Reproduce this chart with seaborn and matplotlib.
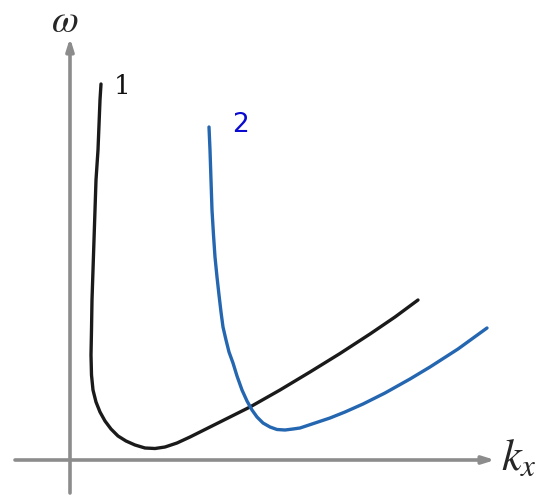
import matplotlib
matplotlib.use('Agg')
import matplotlib.pyplot as plt
import seaborn as sns

sns.set_style('white')
plt.rcParams['mathtext.fontset'] = 'stix'

# curve 1 (black), axis origin at the crossing
c1_x = [0.31, 0.30, 0.29, 0.28, 0.26, 0.25, 0.24, 0.23, 0.22, 0.215, 0.21, 0.215,
        0.23, 0.26, 0.30, 0.35, 0.41, 0.48, 0.56, 0.65, 0.75, 0.85, 0.95, 1.07,
        1.20, 1.40, 1.60, 1.80, 2.10, 2.40, 2.70, 3.00, 3.25, 3.48]
c1_y = [3.76, 3.60, 3.35, 3.10, 2.80, 2.50, 2.20, 1.90, 1.60, 1.30, 1.05, 0.85,
        0.70, 0.58, 0.48, 0.39, 0.31, 0.24, 0.19, 0.15, 0.12, 0.115, 0.13, 0.17,
        0.23, 0.33, 0.43, 0.53, 0.70, 0.88, 1.065, 1.26, 1.43, 1.60]

# curve 2 (blue)
c2_x = [1.39, 1.40, 1.41, 1.42, 1.435, 1.45, 1.47, 1.49, 1.51, 1.53, 1.56, 1.59,
        1.63, 1.67, 1.72, 1.77, 1.82, 1.87, 1.93, 2.00, 2.07, 2.15, 2.23, 2.30,
        2.45, 2.60, 2.75, 2.93, 3.15, 3.40, 3.60, 3.88, 4.17]
c2_y = [3.33, 3.10, 2.80, 2.50, 2.25, 2.03, 1.83, 1.65, 1.48, 1.33, 1.20, 1.08,
        0.97, 0.84, 0.70, 0.59, 0.50, 0.43, 0.37, 0.33, 0.305, 0.30, 0.31, 0.32,
        0.37, 0.42, 0.48, 0.56, 0.67, 0.81, 0.93, 1.11, 1.32]

fig = plt.figure(figsize=(5.5, 5.03), dpi=100)
ax = fig.add_axes([0, 0, 1, 1])
ax.set_xlim(-0.70, 4.80)
ax.set_ylim(-0.43, 4.60)
ax.axis('off')

# axes with arrows
arrow = dict(arrowstyle='-|>,head_length=0.7,head_width=0.22', color='#8c8c8c',
             lw=2.6, shrinkA=0, shrinkB=0)
ax.annotate('', xy=(4.25, 0), xytext=(-0.55, 0), arrowprops=arrow)
ax.annotate('', xy=(0, 4.22), xytext=(0, -0.33), arrowprops=arrow)

sns.lineplot(x=c1_x, y=c1_y, sort=False, estimator=None, color='#1a1a1a', lw=2.4,
             solid_joinstyle='round', solid_capstyle='round', ax=ax)
sns.lineplot(x=c2_x, y=c2_y, sort=False, estimator=None, color='#2466b0', lw=2.4,
             solid_joinstyle='round', solid_capstyle='round', ax=ax)

ax.text(-0.05, 4.39, r'$\omega$', fontsize=28, ha='center', va='center')
ax.text(4.31, 0.02, r'$k_x$', fontsize=32, ha='left', va='center')
ax.text(0.52, 3.74, '1', fontsize=19, family='DejaVu Serif', ha='center', va='center',
        color='#111111')
ax.text(1.70, 3.35, '2', fontsize=19, ha='center', va='center', color='#0a0ad0')

fig.savefig('out.png', dpi=100)
plt.close(fig)
